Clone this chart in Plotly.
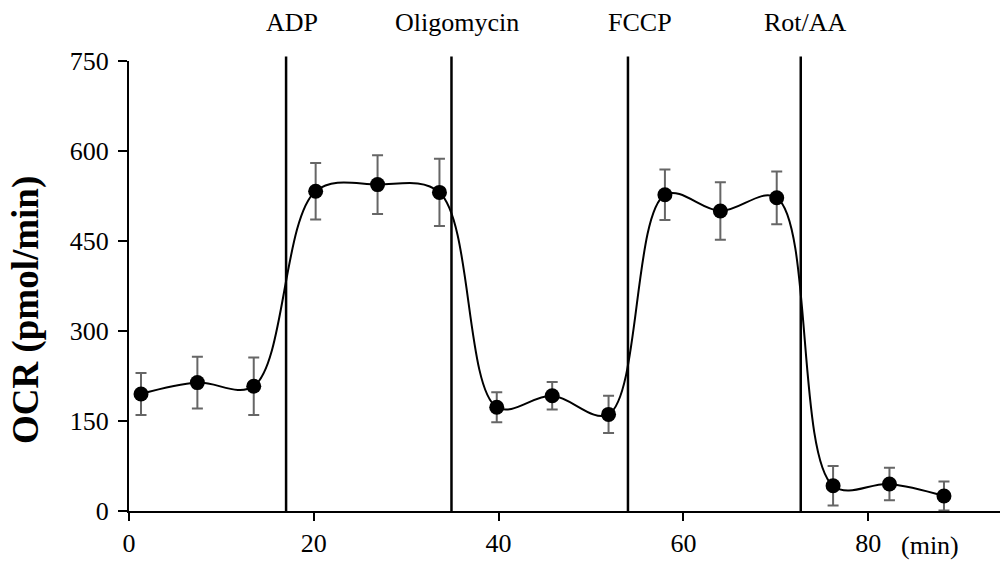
import plotly.graph_objects as go

# Data
time_min = [1.3, 7.4, 13.5, 20.2, 26.9, 33.6, 39.8, 45.8, 51.9, 58.0, 64.0, 70.1, 76.2, 82.3, 88.2]
ocr = [195, 214, 208, 533, 544, 531, 173, 192, 161, 527, 500, 522, 42, 45, 25]
ocr_err = [35, 43, 48, 47, 49, 56, 25, 23, 31, 42, 48, 44, 33, 27, 24]

injection_names = ["ADP", "Oligomycin", "FCCP", "Rot/AA"]
injection_times = [17.0, 34.9, 54.0, 72.7]
label_offsets = [0.6, 0.6, 1.3, 0.5]

y_ticks = [0, 150, 300, 450, 600, 750]
x_ticks = [0, 20, 40, 60, 80]

FONT = "Liberation Serif, Times New Roman, serif"

fig = go.Figure()
fig.add_trace(go.Scatter(
    x=time_min, y=ocr,
    mode="lines+markers",
    line=dict(color="black", width=2, shape="spline", smoothing=1.0),
    marker=dict(color="black", size=15),
    error_y=dict(type="data", array=ocr_err, visible=True,
                 color="#666666", thickness=2, width=5.5),
    cliponaxis=False,
    showlegend=False,
))

for name, t, off in zip(injection_names, injection_times, label_offsets):
    fig.add_shape(type="line", xref="x", yref="paper", x0=t, x1=t, y0=0, y1=1.01,
                  line=dict(color="black", width=2.5), layer="above")
    fig.add_annotation(text=name, x=t + off, xref="x", y=1.0 + 39 / 450, yref="paper",
                       showarrow=False, xanchor="center", yanchor="middle",
                       font=dict(family=FONT, size=26, color="black"))

fig.add_annotation(text="(min)", x=(930 - 129) / 871, xref="paper", y=-34 / 450, yref="paper",
                   showarrow=False, xanchor="center", yanchor="middle",
                   font=dict(family=FONT, size=26, color="black"))
fig.add_annotation(text="<b>OCR (pmol/min)</b>", x=(26 - 129) / 871, xref="paper",
                   y=(511 - 310) / 450, yref="paper", textangle=-90,
                   showarrow=False, xanchor="center", yanchor="middle",
                   font=dict(family=FONT, size=37, color="black"))

fig.update_layout(
    width=1000, height=561,
    margin=dict(l=129, r=0, t=61, b=50),
    paper_bgcolor="white", plot_bgcolor="white",
    font=dict(family=FONT, size=26, color="black"),
    xaxis=dict(range=[0, 871 / 9.24], tickvals=x_ticks, ticks="outside", ticklen=8,
               tickwidth=2, tickcolor="black", showline=True, linecolor="black",
               linewidth=2, showgrid=False, zeroline=False,
               tickfont=dict(family=FONT, size=26, color="black")),
    yaxis=dict(range=[0, 750], tickvals=y_ticks, ticks="outside", ticklen=9,
               tickwidth=2, tickcolor="black", showline=True, linecolor="black",
               linewidth=2, showgrid=False, zeroline=False, ticklabelstandoff=4,
               tickfont=dict(family=FONT, size=26, color="black")),
)

fig.write_html("out.html")
